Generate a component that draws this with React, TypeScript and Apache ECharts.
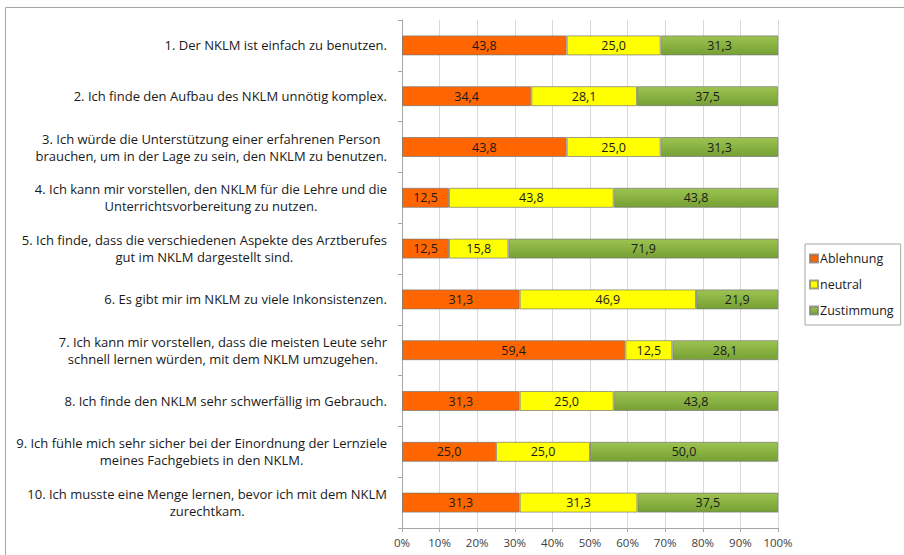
import React, { useEffect, useRef } from "react";
import * as echarts from "echarts";

const categories: string[] = [
  "1. Der NKLM ist einfach zu benutzen.",
  "2. Ich finde den Aufbau des NKLM unnötig komplex.",
  "3. Ich würde die Unterstützung einer erfahrenen Person\nbrauchen, um in der Lage zu sein, den NKLM zu benutzen.",
  "4. Ich kann mir vorstellen, den NKLM für die Lehre und die\nUnterrichtsvorbereitung zu nutzen.",
  "5. Ich finde, dass die verschiedenen Aspekte des Arztberufes\ngut im NKLM dargestellt sind.",
  "6. Es gibt mir im NKLM zu viele Inkonsistenzen.",
  "7. Ich kann mir vorstellen, dass die meisten Leute sehr\nschnell lernen würden, mit dem NKLM umzugehen.",
  "8. Ich finde den NKLM sehr schwerfällig im Gebrauch.",
  "9. Ich fühle mich sehr sicher bei der Einordnung der Lernziele\nmeines Fachgebiets in den NKLM.",
  "10. Ich musste eine Menge lernen, bevor ich mit dem NKLM\nzurechtkam.",
];

const ablehnung: number[] = [43.8, 34.4, 43.8, 12.5, 12.5, 31.3, 59.4, 31.3, 25.0, 31.3];
const neutral: number[] = [25.0, 28.1, 25.0, 43.8, 15.8, 46.9, 12.5, 25.0, 25.0, 31.3];
const zustimmung: number[] = [31.3, 37.5, 31.3, 43.8, 71.9, 21.9, 28.1, 43.8, 50.0, 37.5];

const seriesNames: string[] = ["Ablehnung", "neutral", "Zustimmung"];

const FONT = "'Open Sans', 'Noto Sans', sans-serif";

export default function App() {
  const ref = useRef<HTMLDivElement>(null);
  useEffect(() => {
    if (!ref.current) return;
    const chart = echarts.init(ref.current, undefined, { renderer: "svg" });
    const labelCfg = {
      show: true,
      position: "inside",
      color: "#1a1a1a",
      fontSize: 12.5,
      fontFamily: FONT,
      formatter: (p: any) => Number(p.value).toFixed(1).replace(".", ","),
    };
    const barBorder = { borderColor: "rgba(120,120,120,0.7)", borderWidth: 1 };
    chart.setOption({
      animation: false,
      backgroundColor: "#ffffff",
      textStyle: { fontFamily: FONT },
      graphic: [
        {
          type: "rect",
          shape: { x: 5.5, y: 7.5, width: 1000, height: 1000 },
          style: { fill: "none", stroke: "#a6a6a6", lineWidth: 1 },
          silent: true,
        },
      ],
      grid: { left: 402, right: 126, top: 20, bottom: 27, containLabel: false },
      legend: {
        orient: "vertical",
        left: 805,
        top: 244,
        data: seriesNames,
        icon: "rect",
        itemWidth: 8,
        itemHeight: 8,
        itemGap: 9,
        borderColor: "#a6a6a6",
        borderWidth: 1,
        padding: [6, 7, 6, 4],
        textStyle: { fontSize: 12.5, color: "#1a1a1a", fontFamily: FONT, padding: [0, 0, 0, -3], lineHeight: 17 },
      },
      xAxis: {
        type: "value",
        min: 0,
        max: 100,
        interval: 10,
        axisLine: { show: true, lineStyle: { color: "#a6a6a6" } },
        axisTick: { show: true, length: 4, lineStyle: { color: "#a6a6a6" } },
        splitLine: { show: true, lineStyle: { color: "#d9d9d9" } },
        axisLabel: {
          formatter: "{value}%",
          fontSize: 11.5,
          color: "#404040",
          fontFamily: FONT,
          margin: 8,
        },
      },
      yAxis: {
        type: "category",
        inverse: true,
        data: categories,
        axisLine: { show: true, lineStyle: { color: "#a6a6a6" } },
        axisTick: { show: true, length: 4, lineStyle: { color: "#a6a6a6" } },
        axisLabel: {
          margin: 15,
          align: "right",
          formatter: (v: string) =>
            v
              .split("\n")
              .map((l) => "{c|" + l + "}")
              .join("\n"),
          rich: {
            c: {
              align: "center",
              fontSize: 13,
              lineHeight: 17,
              color: "#1a1a1a",
              fontFamily: FONT,
            },
          },
        },
      },
      series: [
        {
          name: seriesNames[0],
          type: "bar",
          stack: "total",
          barWidth: 20,
          data: ablehnung,
          itemStyle: { color: "#FF6600", ...barBorder },
          label: labelCfg,
        },
        {
          name: seriesNames[1],
          type: "bar",
          stack: "total",
          barWidth: 20,
          data: neutral,
          itemStyle: { color: "#FFFF00", ...barBorder },
          label: labelCfg,
        },
        {
          name: seriesNames[2],
          type: "bar",
          stack: "total",
          barWidth: 20,
          data: zustimmung,
          itemStyle: {
            color: new echarts.graphic.LinearGradient(0, 0, 0, 1, [
              { offset: 0, color: "#9dc451" },
              { offset: 1, color: "#76a034" },
            ]),
            ...barBorder,
          },
          label: labelCfg,
        },
      ],
    });
    return () => chart.dispose();
  }, []);
  return (
    <div
      ref={ref}
      style={{ position: "fixed", left: 0, top: 0, width: 904, height: 555 }}
    />
  );
}
